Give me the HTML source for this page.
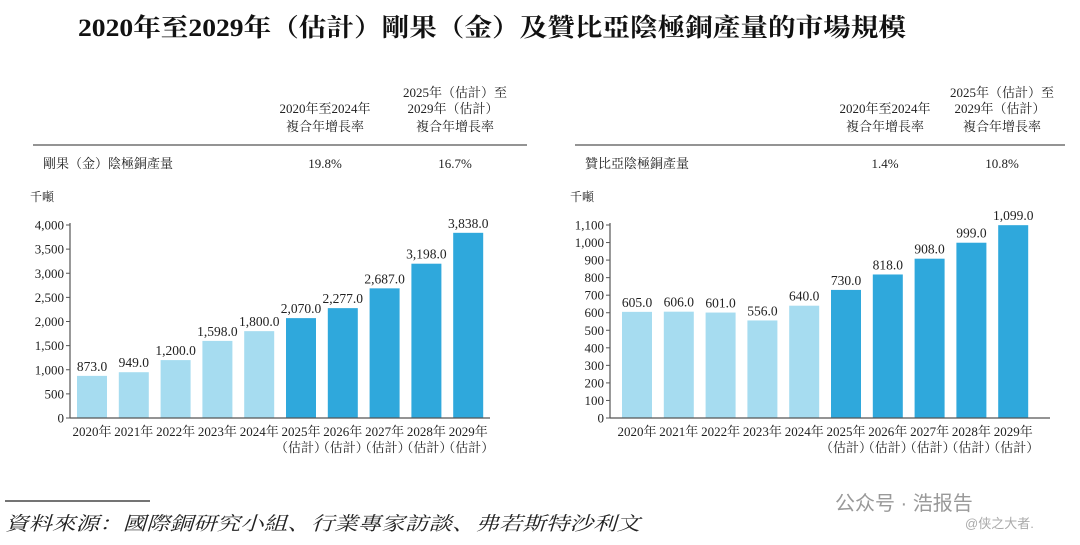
<!DOCTYPE html>
<html><head><meta charset="utf-8"><style>
html,body{margin:0;padding:0;background:#fff;}
svg{display:block;font-family:"Liberation Serif","Noto Serif CJK SC",serif;}
</style></head><body>
<svg id="root" width="1080" height="545" viewBox="0 0 1080 545">
<text x="492" y="36" text-anchor="middle" font-size="25" font-weight="bold" fill="#111" textLength="828" lengthAdjust="spacingAndGlyphs">2020年至2029年（估計）剛果（金）及贊比亞陰極銅產量的市場規模</text>
<g id="left"></g>
<g id="right"></g>
<line x1="5" y1="501" x2="150" y2="501" stroke="#222" stroke-width="1.2"/>
<text x="5" y="530" font-size="19" font-style="italic" fill="#222" textLength="635" lengthAdjust="spacingAndGlyphs">資料來源：國際銅研究小組、行業專家訪談、弗若斯特沙利文</text>
<text x="835" y="510" font-size="20" fill="#999" font-family="Liberation Sans,Noto Sans CJK SC,sans-serif">公众号 · 浩报告</text>
<text x="965" y="528" font-size="13" fill="#aaa" font-family="Liberation Sans,Noto Sans CJK SC,sans-serif">@侠之大者.</text>
</svg>
<script>
const categories=["2020年","2021年","2022年","2023年","2024年","2025年","2026年","2027年","2028年","2029年"];
const estimated=[false,false,false,false,false,true,true,true,true,true];
const drcValues=[873,949,1200,1598,1800,2070,2277,2687,3198,3838];
const drcTicks=[0,500,1000,1500,2000,2500,3000,3500,4000];
const zambiaValues=[605,606,601,556,640,730,818,908,999,1099];
const zambiaTicks=[0,100,200,300,400,500,600,700,800,900,1000,1100];
const drcCagr=["19.8%","16.7%"];
const zambiaCagr=["1.4%","10.8%"];
const NS="http://www.w3.org/2000/svg";
function mk(parent,tag,attrs,text){const e=document.createElementNS(NS,tag);for(const k in attrs)e.setAttribute(k,attrs[k]);if(text!=null)e.textContent=text;parent.appendChild(e);return e;}
function fmt(v){return v.toLocaleString('en-US');}
function draw(g,o){
  // header
  let t;
  t=mk(g,'text',{x:o.c2,y:97,'text-anchor':'middle','font-size':13,fill:'#222'},'2025年（估計）至');
  
  t=mk(g,'text',{x:o.c2-2,y:113,'text-anchor':'middle','font-size':13,fill:'#222'},'2029年（估計）');
  
  t=mk(g,'text',{x:o.c2,y:131,'text-anchor':'middle','font-size':13,fill:'#222'},'複合年增長率');
  
  t=mk(g,'text',{x:o.c1,y:113,'text-anchor':'middle','font-size':13,fill:'#222'},'2020年至2024年');
  
  t=mk(g,'text',{x:o.c1,y:131,'text-anchor':'middle','font-size':13,fill:'#222'},'複合年增長率');
  
  t=mk(g,'line',{x1:o.hx1,x2:o.hx2,y1:145,y2:145,stroke:'#555','stroke-width':1.2});
  
  t=mk(g,'text',{x:o.hx1+10,y:168,'font-size':13,fill:'#222'},o.rowLabel);
  
  t=mk(g,'text',{x:o.c1,y:168,'text-anchor':'middle','font-size':13,fill:'#222'},o.cagr[0]);
  
  t=mk(g,'text',{x:o.c2,y:168,'text-anchor':'middle','font-size':13,fill:'#222'},o.cagr[1]);
  
  t=mk(g,'text',{x:o.ax-40,y:201,'font-size':12,fill:'#222'},'千噸');
  
  const y0=418,y1=225,max=o.ticks[o.ticks.length-1];
  const y=v=>y0-(v/max)*(y0-y1);
  const x=i=>o.b0+i*o.step;
  o.ticks.forEach(tv=>{
    let l=mk(g,'line',{x1:o.ax-4,x2:o.ax,y1:y(tv),y2:y(tv),stroke:'#555','stroke-width':1});
    
    let s=mk(g,'text',{x:o.ax-6,y:y(tv)+4.5,'text-anchor':'end','font-size':13,fill:'#222'},fmt(tv));
    
  });
  o.values.forEach((v,i)=>{
    let r=mk(g,'rect',{x:x(i),y:y(v),width:o.bw,height:y0-y(v),fill:estimated[i]?'#2fa8dc':'#a6dcf0'});
    
    let s=mk(g,'text',{x:x(i)+o.bw/2,y:y(v)-5,'text-anchor':'middle','font-size':13.5,fill:'#222'},fmt(v)+'.0');
    
    let c=mk(g,'text',{x:x(i)+o.bw/2,y:436,'text-anchor':'middle','font-size':13,fill:'#222'},categories[i]);
    
    if(estimated[i]){let e=mk(g,'text',{x:x(i)+o.bw/2,y:452,'text-anchor':'middle','font-size':13,fill:'#222'},'（估計）');
    }
  });
  let a=mk(g,'line',{x1:o.ax,x2:o.ax,y1:y1-2,y2:y0,stroke:'#555','stroke-width':1.2});
  
  a=mk(g,'line',{x1:o.ax,x2:o.axEnd,y1:y0,y2:y0,stroke:'#555','stroke-width':1.2});
  
}
draw(document.getElementById('left'),{values:drcValues,ticks:drcTicks,cagr:drcCagr,rowLabel:'剛果（金）陰極銅產量',ax:70,axEnd:490,b0:77,step:41.8,bw:30,c1:325,c2:455,hx1:33,hx2:527});
draw(document.getElementById('right'),{values:zambiaValues,ticks:zambiaTicks,cagr:zambiaCagr,rowLabel:'贊比亞陰極銅產量',ax:610,axEnd:1050,b0:622,step:41.8,bw:30,c1:885,c2:1002,hx1:575,hx2:1065});
</script>
</body></html>
